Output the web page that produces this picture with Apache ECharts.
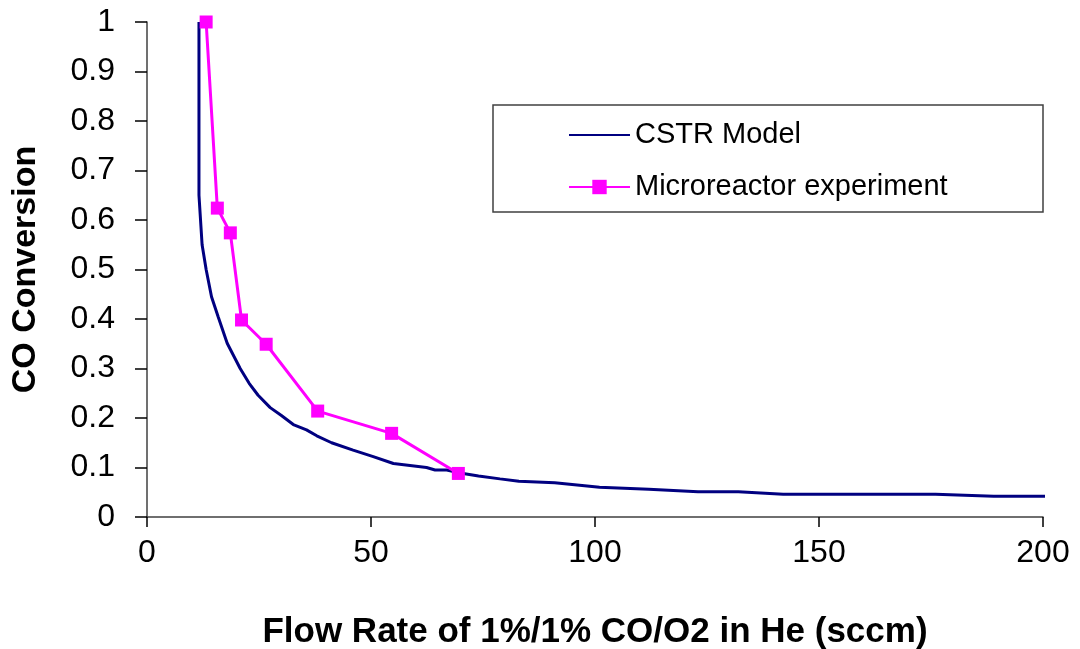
<!DOCTYPE html>
<html>
<head>
<meta charset="utf-8">
<script src="https://cdn.jsdelivr.net/npm/echarts@6/dist/echarts.min.js"></script>
<style>
  html, body { margin: 0; padding: 0; background: #fff; }
  #chart { width: 1080px; height: 649px; }
</style>
</head>
<body>
<div id="chart"></div>
<script>
// CSTR model prediction: [flow rate (sccm), CO conversion]
const cstrModel = [
  [11.6, 1.0], [11.6, 0.65], [12.3, 0.55], [13.2, 0.50], [14.4, 0.445],
  [15.9, 0.404], [17.9, 0.351], [20.8, 0.300], [22.8, 0.270], [24.8, 0.246],
  [27.5, 0.221], [30.0, 0.205], [32.8, 0.186], [35.6, 0.176], [37.9, 0.164],
  [41.2, 0.150], [46.0, 0.135], [50.5, 0.122], [55.0, 0.108], [62.4, 0.100],
  [64.3, 0.095], [66.9, 0.095], [69.9, 0.089], [74.0, 0.083], [78.8, 0.077],
  [83.0, 0.072], [91.0, 0.069], [101.0, 0.060], [112.0, 0.056], [123.0, 0.051],
  [132.0, 0.051], [142.0, 0.046], [176.0, 0.046], [189.0, 0.042], [202.0, 0.042]
];

// Measured conversion in the microreactor
const microreactor = [
  [13.2, 1.0], [15.7, 0.624], [18.6, 0.574], [21.1, 0.398],
  [26.6, 0.349], [38.1, 0.214], [54.6, 0.169], [69.5, 0.088]
];

const seriesNames = ['CSTR Model', 'Microreactor experiment'];
const xTitle = 'Flow Rate of 1%/1% CO/O2 in He (sccm)';
const yTitle = 'CO Conversion';

const FONT = '"Liberation Sans", Arial, sans-serif';

const chart = echarts.init(document.getElementById('chart'), null, { renderer: 'canvas' });

chart.setOption({
  backgroundColor: '#ffffff',
  animation: false,
  grid: {
    left: 147, right: 37, top: 22, bottom: 132,
    containLabel: false,
    outerBoundsMode: 'none'
  },
  xAxis: {
    type: 'value',
    min: 0, max: 200, interval: 50,
    name: xTitle,
    nameLocation: 'middle',
    nameGap: 98,
    nameTextStyle: { fontFamily: FONT, fontWeight: 'bold', fontSize: 35, color: '#000' },
    axisLine: { show: true, onZero: false, lineStyle: { color: '#404040', width: 1.5 } },
    axisTick: { show: true, inside: false, length: 10, lineStyle: { color: '#000', width: 1.5 } },
    axisLabel: { fontFamily: FONT, fontSize: 32, color: '#000', margin: 20 },
    splitLine: { show: false }
  },
  yAxis: {
    type: 'value',
    min: 0, max: 1, interval: 0.1,
    name: yTitle,
    nameLocation: 'middle',
    nameGap: 104,
    nameRotate: 90,
    nameTextStyle: { fontFamily: FONT, fontWeight: 'bold', fontSize: 34, color: '#000' },
    axisLine: { show: true, onZero: false, lineStyle: { color: '#404040', width: 1.5 } },
    axisTick: { show: true, inside: false, length: 12, lineStyle: { color: '#000', width: 1.5 } },
    axisLabel: {
      fontFamily: FONT, fontSize: 32, color: '#000', margin: 32,
      formatter: v => String(Math.round(v * 10) / 10)
    },
    splitLine: { show: false }
  },
  legend: {
    orient: 'vertical',
    left: 568, top: 120,
    itemWidth: 61, itemHeight: 18, itemGap: 22,
    padding: 0,
    textStyle: { fontFamily: FONT, fontSize: 29, color: '#000', lineHeight: 30, padding: [0, 0, 0, 0] },
    data: [
      { name: seriesNames[0], itemStyle: { opacity: 0 } },
      { name: seriesNames[1] }
    ]
  },
  graphic: [{
    type: 'rect',
    shape: { x: 493, y: 105, width: 550, height: 107 },
    style: { fill: 'none', stroke: '#404040', lineWidth: 1.5 },
    z: 1
  }],
  series: [
    {
      name: seriesNames[0],
      type: 'line',
      data: cstrModel,
      showSymbol: false,
      symbol: 'none',
      smooth: false,
      clip: false,
      lineStyle: { color: '#000080', width: 3 },
      itemStyle: { color: '#000080' },
      z: 2
    },
    {
      name: seriesNames[1],
      type: 'line',
      data: microreactor,
      symbol: 'rect',
      symbolSize: 13,
      showSymbol: true,
      lineStyle: { color: '#ff00ff', width: 3 },
      itemStyle: { color: '#ff00ff' },
      z: 3
    }
  ]
});
</script>
</body>
</html>
